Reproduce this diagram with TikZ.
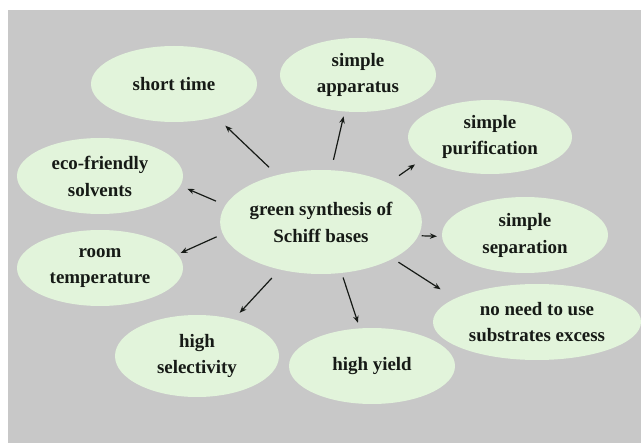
\documentclass[tikz,border=0pt]{standalone}
\usepackage{fontspec}
\setmainfont{Liberation Serif}
\usetikzlibrary{shapes.geometric,arrows.meta}
\definecolor{bggray}{RGB}{200,200,200}
\definecolor{bubble}{RGB}{226,244,219}
\definecolor{ink}{RGB}{22,26,22}
\tikzset{
  bub/.style={ellipse, fill=bubble, draw=none, inner sep=0pt, align=center,
    text=ink, font=\bfseries\fontsize{19}{27}\selectfont},
  arr/.style={draw=ink, line width=1.2bp, -{Stealth[length=7bp,width=5.5bp]}}
}
\begin{document}
\begin{tikzpicture}[x=1bp,y=-1bp]
\useasboundingbox (0,0) rectangle (641,443);
\fill[white] (0,0) rectangle (641,443);
\fill[bggray] (8,10) rectangle (641,443);

\node[bub, minimum width=184bp, minimum height=104bp] (c) at (321,222) {green synthesis of\\Schiff bases};
\node[bub, minimum width=166bp, minimum height=76bp] (st) at (174,84) {short time};
\node[bub, minimum width=156bp, minimum height=74bp] (sa) at (358,75) {simple\\apparatus};
\node[bub, minimum width=164bp, minimum height=74bp] (sp) at (490,137) {simple\\purification};
\node[bub, minimum width=166bp, minimum height=76bp] (ss) at (525,235) {simple\\separation};
\node[bub, minimum width=208bp, minimum height=76bp] (nn) at (537,322) {no need to use\\substrates excess};
\node[bub, minimum width=166bp, minimum height=76bp] (hy) at (372,366) {high yield};
\node[bub, minimum width=164bp, minimum height=82bp] (hs) at (197,356) {high\\selectivity};
\node[bub, minimum width=166bp, minimum height=76bp] (rt) at (100,268) {room\\temperature};
\node[bub, minimum width=166bp, minimum height=76bp] (ef) at (100,176) {eco-friendly\\solvents};

\draw[arr, shorten <=11.2bp, shorten >=12.7bp] (c.133.4) -- (st.-38.8);
\draw[arr, shorten <=10.2bp, shorten >=7.6bp] (c.170.2) -- (ef.-7.85);
\draw[arr, shorten <=10.5bp, shorten >=4.8bp] (c.79) -- (sa.-110.1);
\draw[arr, shorten <=13bp, shorten >=10bp] (c.30.4) -- (sp.-162.7);
\draw[arr, shorten <=3.2bp, shorten >=5bp] (c.-8.65) -- (ss.-179.3);
\draw[arr, shorten <=6.6bp, shorten >=17bp] (c.-27.2) -- (nn.164.9);
\draw[arr, shorten <=4.6bp, shorten >=5.7bp] (c.-68.2) -- (hy.108);
\draw[arr, shorten <=11.4bp, shorten >=8.6bp] (c.-131.7) -- (hs.45.7);
\draw[arr, shorten <=6.6bp, shorten >=3.2bp] (c.187.7) -- (rt.10.6);
\end{tikzpicture}
\end{document}
